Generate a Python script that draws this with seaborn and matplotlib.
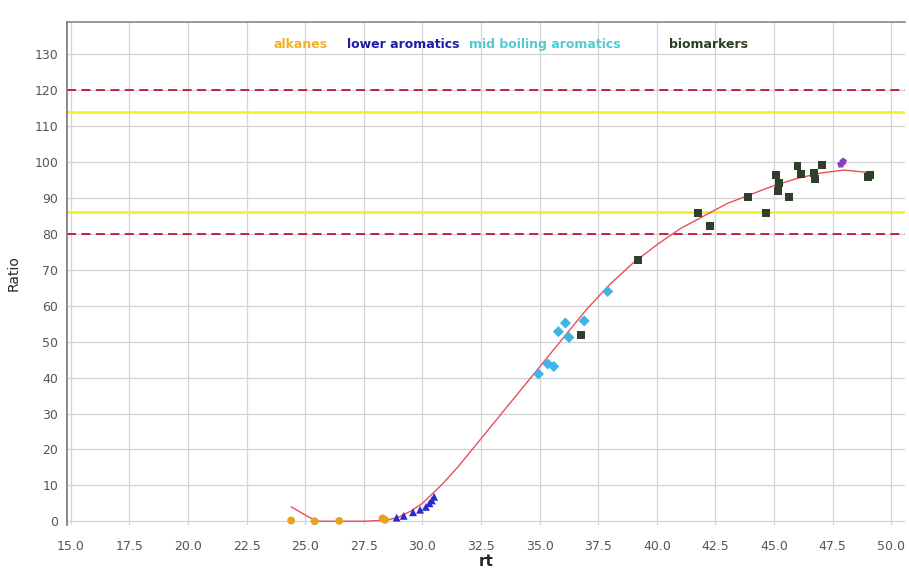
"""
Ratio vs retention time with group markers and fitted curve
"""

import pandas as pd
import numpy as np
import matplotlib.pyplot as plt
import seaborn as sns

# Data
alkanes_rt = [24.4, 25.4, 26.45, 28.3, 28.4]
alkanes_ratio = [0.2, 0.0, 0.1, 0.8, 0.4]

lower_rt = [28.9, 29.2, 29.6, 29.9, 30.15, 30.3, 30.4, 30.5]
lower_ratio = [1.0, 1.5, 2.5, 3.2, 4.0, 5.0, 5.8, 6.8]

mid_rt = [34.95, 35.35, 35.6, 35.8, 36.1, 36.25, 36.9, 37.9]
mid_ratio = [41.0, 43.8, 43.1, 52.8, 55.2, 51.2, 55.8, 64.0]

bio_rt = [36.75, 39.2, 41.75, 42.25, 43.9, 44.65, 45.1, 45.2, 45.15, 45.65,
          46.0, 46.15, 46.7, 46.75, 47.05, 49.0, 49.1]
bio_ratio = [51.8, 72.8, 85.8, 82.2, 90.3, 85.8, 96.4, 94.1, 92.0, 90.3,
             98.9, 96.7, 96.9, 95.3, 99.2, 95.8, 96.4]

other_rt = [47.85, 47.95]
other_ratio = [99.4, 100.2]

fit_rt = [24.4, 24.8, 25.2, 25.6, 26.5, 27.5, 28.5, 29.0, 29.5, 30.0, 30.8,
          31.5, 32.5, 33.5, 34.5, 35.0, 36.0, 37.0, 38.0, 39.0, 40.0, 41.0,
          42.0, 43.0, 44.0, 45.0, 46.0, 47.0, 48.0, 49.2]
fit_ratio = [4.0, 2.5, 1.0, 0.0, 0.0, 0.0, 0.3, 1.2, 2.8, 5.0, 10.0,
             15.0, 23.0, 31.0, 39.0, 43.0, 51.0, 59.0, 66.0, 72.0, 77.0, 81.5,
             85.0, 88.5, 91.0, 93.5, 95.5, 97.0, 97.8, 97.0]

upper_limit = 120
lower_limit = 80
upper_warn = 114
lower_warn = 86

groups = ['alkanes', 'lower aromatics', 'mid boiling aromatics', 'biomarkers']
colors = {'alkanes': '#e8a21e', 'lower aromatics': '#2a2ad0',
          'mid boiling aromatics': '#3fb4e6', 'biomarkers': '#2e3f2a',
          'other': '#8a3fb8'}
label_colors = ['#f0b030', '#1c1ca8', '#55c8d0', '#2e3f20']
label_x = [0.278, 0.401, 0.570, 0.765]
markers = {'alkanes': 'o', 'lower aromatics': '^',
           'mid boiling aromatics': 'D', 'biomarkers': 's', 'other': 'p'}

df = pd.concat([
    pd.DataFrame({'rt': alkanes_rt, 'Ratio': alkanes_ratio, 'group': 'alkanes'}),
    pd.DataFrame({'rt': lower_rt, 'Ratio': lower_ratio, 'group': 'lower aromatics'}),
    pd.DataFrame({'rt': mid_rt, 'Ratio': mid_ratio, 'group': 'mid boiling aromatics'}),
    pd.DataFrame({'rt': bio_rt, 'Ratio': bio_ratio, 'group': 'biomarkers'}),
    pd.DataFrame({'rt': other_rt, 'Ratio': other_ratio, 'group': 'other'}),
], ignore_index=True)
fit = pd.DataFrame({'rt': fit_rt, 'Ratio': fit_ratio})

sns.set_style('white')
plt.rcParams['font.family'] = ['DejaVu Sans']

fig = plt.figure(figsize=(9.09, 5.68), dpi=100)
ax = fig.add_axes([0.074, 0.076, 0.922, 0.885])

# Grid
for x in np.arange(15, 50.1, 2.5):
    ax.axvline(x, color='#d4d4d4', linewidth=0.9, zorder=0)
for y in range(0, 131, 10):
    ax.axhline(y, color='#d4d4d4', linewidth=0.9, zorder=0)

# Reference lines
ax.axhline(upper_limit, color='#c8102e', linestyle=(0, (5, 3)), linewidth=1.3, zorder=1)
ax.axhline(lower_limit, color='#c8102e', linestyle=(0, (5, 3)), linewidth=1.3, zorder=1)
ax.axhline(upper_warn, color='#f2f22a', linewidth=2.0, zorder=1)
ax.axhline(lower_warn, color='#f2f22a', linewidth=2.0, zorder=1)

sns.lineplot(data=fit, x='rt', y='Ratio', color='#e8505a', linewidth=1.0,
             ax=ax, zorder=2, sort=False)
sns.scatterplot(data=df, x='rt', y='Ratio', hue='group', style='group',
                palette=colors, markers=markers, s=32, edgecolor='none',
                legend=False, ax=ax, zorder=3)

ax.set_xlim(14.85, 50.6)
ax.set_ylim(-1, 139)
ax.set_xticks(np.arange(15, 50.1, 2.5))
ax.set_xticklabels([f'{v:.1f}' for v in np.arange(15, 50.1, 2.5)])
ax.set_yticks(range(0, 131, 10))
ax.tick_params(axis='both', labelsize=9, colors='#555555', length=3,
               direction='out')
ax.tick_params(axis='x', pad=8)
ax.set_xlabel('rt', fontsize=11, fontweight='bold', labelpad=1)
ax.set_ylabel('Ratio', fontsize=10, labelpad=10)

for side in ['bottom', 'right']:
    ax.spines[side].set_visible(False)
ax.spines['left'].set_color('#777777')
ax.spines['top'].set_color('#888888')
ax.spines['left'].set_linewidth(1.2)
ax.spines['top'].set_linewidth(1.2)

# Group labels at top
for name, c, xpos in zip(groups, label_colors, label_x):
    ax.text(xpos, 0.955, name, transform=ax.transAxes, color=c,
            fontsize=9, fontweight='bold', ha='center', va='center')

plt.savefig('out.png', dpi=100)
